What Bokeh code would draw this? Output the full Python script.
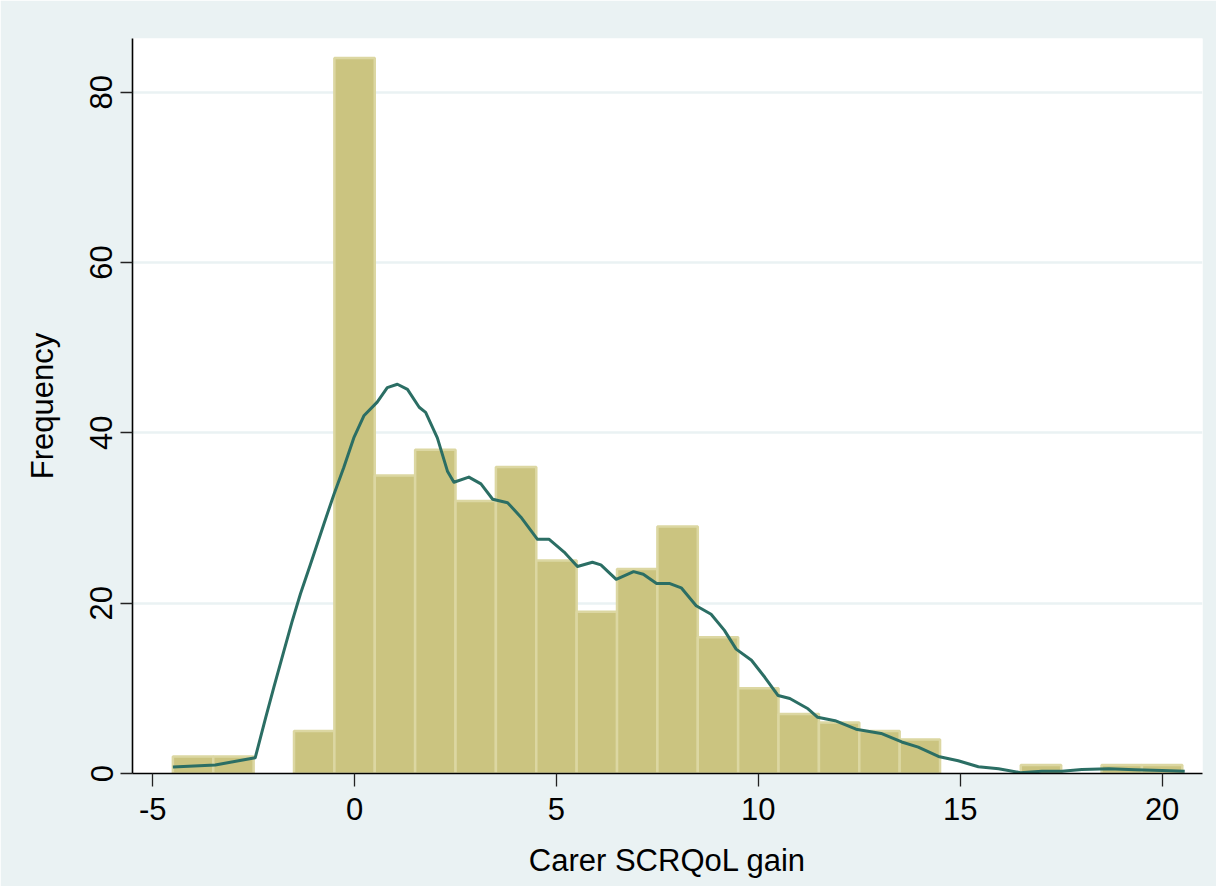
from bokeh.plotting import figure
from bokeh.models import FixedTicker, Range1d, PrintfTickFormatter
from bokeh.embed import file_html
from bokeh.resources import INLINE

# Histogram data (bin width 1, centred on integers)
bin_centers = [-4, -3, -1, 0, 1, 2, 3, 4, 5, 6, 7, 8, 9, 10, 11, 12, 13, 14, 17, 19, 20]
counts = [2, 2, 5, 84, 35, 38, 32, 36, 25, 19, 24, 29, 16, 10, 7, 6, 5, 4, 1, 1, 1]

# Smoothed frequency curve
curve_x = [-4.5, -3.45, -2.46, -2.2, -2.0, -1.75, -1.55, -1.34, -1.09, -0.76, -0.51, -0.27,
           -0.02, 0.23, 0.56, 0.81, 1.06, 1.31, 1.60, 1.76, 2.05, 2.30, 2.46, 2.83, 3.13,
           3.42, 3.79, 4.12, 4.53, 4.82, 5.19, 5.52, 5.89, 6.10, 6.48, 6.91, 7.15, 7.48,
           7.81, 8.09, 8.46, 8.83, 9.16, 9.45, 9.83, 10.16, 10.49, 10.78, 11.23, 11.47,
           11.90, 12.42, 13.04, 13.55, 13.96, 14.46, 14.95, 15.45, 15.95, 16.49, 17.02,
           17.52, 18.01, 18.68, 19.33, 20.0, 20.56]
curve_y = [0.75, 1.0, 1.85, 6.6, 10.1, 14.4, 17.8, 21.1, 24.6, 29.3, 32.8, 35.9,
           39.4, 42.0, 43.6, 45.3, 45.7, 45.1, 43.0, 42.4, 39.4, 35.5, 34.2, 34.8, 34.0,
           32.2, 31.8, 30.1, 27.5, 27.5, 26.0, 24.3, 24.8, 24.5, 22.8, 23.7, 23.4, 22.3,
           22.3, 21.8, 19.7, 18.7, 16.8, 14.6, 13.3, 11.3, 9.15, 8.8, 7.6, 6.6,
           6.2, 5.2, 4.7, 3.7, 3.1, 2.0, 1.5, 0.8, 0.55, 0.1, 0.27,
           0.27, 0.47, 0.55, 0.43, 0.35, 0.27]

x_ticks = [-5, 0, 5, 10, 15, 20]
y_ticks = [0, 20, 40, 60, 80]

BG = "#EAF2F3"
FONT = "Liberation Sans"

p = figure(width=1216, height=886, output_backend="svg", toolbar_location=None,
           x_range=Range1d(-5.5, 21.0), y_range=Range1d(0, 86.3),
           min_border_left=132, min_border_right=14, min_border_top=38, min_border_bottom=113)
p.background_fill_color = "white"
p.border_fill_color = BG
p.outline_line_color = None

p.vbar(x=bin_centers, top=counts, width=1.0, bottom=0,
       fill_color="#CBC480", line_color="#DCD7A2", line_width=2.5)
p.line(curve_x, curve_y, line_color="#2B6E64", line_width=3, line_join="round")

p.xgrid.visible = False
p.ygrid.grid_line_color = BG
p.ygrid.grid_line_width = 2.5
p.ygrid.ticker = FixedTicker(ticks=y_ticks)

for ax in (p.xaxis[0], p.yaxis[0]):
    ax.axis_line_color = "black"
    ax.axis_line_width = 1.6
    ax.major_tick_line_color = "#222222"
    ax.major_tick_line_width = 1.3
    ax.major_tick_in = 0
    ax.minor_tick_line_color = None
    ax.formatter = PrintfTickFormatter(format="%d")
    ax.major_label_text_font = FONT
    ax.major_label_text_font_size = "31px"
    ax.major_label_text_color = "black"
    ax.axis_label_text_font = FONT
    ax.axis_label_text_font_size = "31px"
    ax.axis_label_text_font_style = "normal"
    ax.axis_label_text_color = "black"

p.xaxis[0].ticker = FixedTicker(ticks=x_ticks)
p.xaxis[0].major_tick_out = 13
p.xaxis[0].major_label_standoff = 11
p.xaxis[0].axis_label = "Carer SCRQoL gain"
p.xaxis[0].axis_label_standoff = 20

p.yaxis[0].ticker = FixedTicker(ticks=y_ticks)
p.yaxis[0].major_tick_out = 12
p.yaxis[0].major_label_standoff = 8
p.yaxis[0].major_label_orientation = "vertical"
p.yaxis[0].axis_label = "Frequency"
p.yaxis[0].axis_label_standoff = 28

open("out.html", "w").write(file_html(p, INLINE))
